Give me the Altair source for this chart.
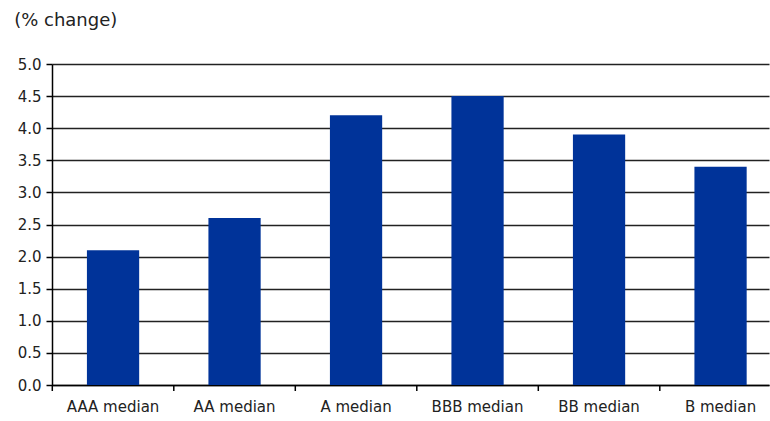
import altair as alt
import pandas as pd

categories = ["AAA median", "AA median", "A median", "BBB median", "BB median", "B median"]
values = [2.1, 2.6, 4.2, 4.5, 3.9, 3.4]
y_ticks = [0.0, 0.5, 1.0, 1.5, 2.0, 2.5, 3.0, 3.5, 4.0, 4.5, 5.0]

df = pd.DataFrame({"cat": categories, "val": values})

FONT = "DejaVu Sans"
W, H = 717, 321
PI = 0.57
PO = 0.2356
STEP = W / (len(categories) - PI + 2 * PO)

xscale = alt.Scale(domain=categories, paddingInner=PI, paddingOuter=PO, align=0.61)

bars = alt.Chart(df).mark_bar(color="#003399").encode(
    x=alt.X("cat:N", sort=categories, scale=xscale,
            axis=alt.Axis(title=None, labelAngle=0, tickSize=0, labelPadding=14,
                          labelFont=FONT, labelFontSize=15, labelColor="#222",
                          domainColor="#000", domainWidth=1.5, grid=False)),
    y=alt.Y("val:Q", scale=alt.Scale(domain=[0, 5], nice=False),
            axis=alt.Axis(title=None, values=y_ticks, format=".1f", tickSize=6,
                          labelPadding=5, labelFont=FONT, labelFontSize=15,
                          labelColor="#222", domainColor="#000", domainWidth=1.5,
                          tickColor="#000", tickWidth=1.5,
                          grid=True, gridColor="#222", gridWidth=1.6)),
)

ticks = alt.Chart(df).mark_rule(color="#000", strokeWidth=1.5,
                                xOffset=-STEP * PI / 2).encode(
    x=alt.X("cat:N", sort=categories, scale=xscale, bandPosition=0),
    y=alt.value(H),
    y2=alt.value(H + 6),
)

chart = alt.layer(bars, ticks).properties(
    width=W, height=H,
    title=alt.TitleParams("(% change)", anchor="start", dx=-3, offset=27,
                          font=FONT, fontSize=18, fontWeight="normal", color="#222"),
    autosize=alt.AutoSizeParams(type="none"),
    padding={"left": 52, "top": 64, "right": 1, "bottom": 36},
).configure_view(stroke=None)

chart.save("out.html", embed_options={"renderer": "svg", "actions": False})
